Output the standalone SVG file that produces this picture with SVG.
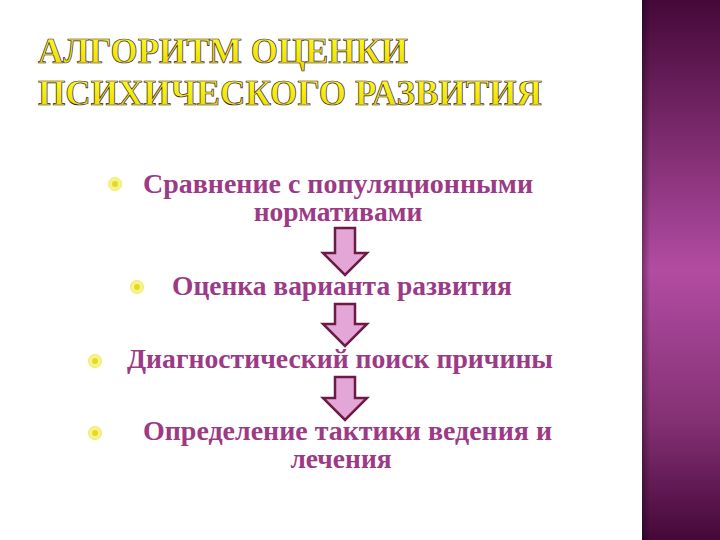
<svg xmlns="http://www.w3.org/2000/svg" width="720" height="540" viewBox="0 0 720 540">
<defs>
<linearGradient id="panel" x1="0" y1="0" x2="0" y2="1">
<stop offset="0" stop-color="#450838"/>
<stop offset="0.22" stop-color="#742666"/>
<stop offset="0.5" stop-color="#b24ca2"/>
<stop offset="0.78" stop-color="#843074"/>
<stop offset="1" stop-color="#450838"/>
</linearGradient>
<linearGradient id="edge" x1="0" y1="0" x2="1" y2="0">
<stop offset="0" stop-color="#000" stop-opacity="0.35"/>
<stop offset="1" stop-color="#000" stop-opacity="0"/>
</linearGradient>
<linearGradient id="ttl" x1="0" y1="0" x2="0" y2="1">
<stop offset="0" stop-color="#ffff20"/>
<stop offset="1" stop-color="#e8d800"/>
</linearGradient>
<g id="bullet">
<circle r="6.5" fill="#f6f290" stroke="#f2ee50" stroke-width="1"/>
<circle r="3" fill="#e6da20"/>
</g>
</defs>
<style>
.title{font-family:"Liberation Serif","Times New Roman",serif;font-weight:bold;font-size:35px;fill:url(#ttl);stroke:#3a1a3a;stroke-width:0.7;}
.body{font-family:"Liberation Serif","Times New Roman",serif;font-weight:bold;font-size:27.5px;fill:#9c3a86;}
.arrow{fill:#e4a6d6;stroke:#6c1c44;stroke-width:2.5;stroke-linejoin:miter;}
</style>
<rect width="720" height="540" fill="#ffffff"/>
<rect x="642" y="0" width="78" height="540" fill="url(#panel)"/>
<rect x="642" y="0" width="8" height="540" fill="url(#edge)"/>
<g id="title">
<text class="title" x="38" y="63" textLength="370" lengthAdjust="spacingAndGlyphs">АЛГОРИТМ ОЦЕНКИ</text>
<text class="title" x="38" y="105" textLength="504" lengthAdjust="spacingAndGlyphs">ПСИХИЧЕСКОГО РАЗВИТИЯ</text>
</g>
<g id="node1">
<use href="#bullet" x="115" y="184"/>
<text class="body" x="143" y="193" textLength="390" lengthAdjust="spacingAndGlyphs">Сравнение с популяционными</text>
<text class="body" x="338" y="221" text-anchor="middle">нормативами</text>
</g>
<g id="node2">
<use href="#bullet" x="137" y="287"/>
<text class="body" x="172" y="295" textLength="340" lengthAdjust="spacingAndGlyphs">Оценка варианта развития</text>
</g>
<g id="node3">
<use href="#bullet" x="95" y="361"/>
<text class="body" x="127" y="368" textLength="426" lengthAdjust="spacingAndGlyphs">Диагностический поиск причины</text>
</g>
<g id="node4">
<use href="#bullet" x="95" y="433"/>
<text class="body" x="143" y="440" textLength="409" lengthAdjust="spacingAndGlyphs">Определение тактики ведения и</text>
<text class="body" x="341" y="468" text-anchor="middle">лечения</text>
</g>
<g id="connectors">
<path class="arrow" d="M335,228 H355 V253 H367 L345,275 L323,253 H335 Z"/>
<path class="arrow" d="M335,304 H355 V324 H367 L345,346 L323,324 H335 Z"/>
<path class="arrow" d="M335,377 H355 V398 H367 L345,420 L323,398 H335 Z"/>
</g>
</svg>
